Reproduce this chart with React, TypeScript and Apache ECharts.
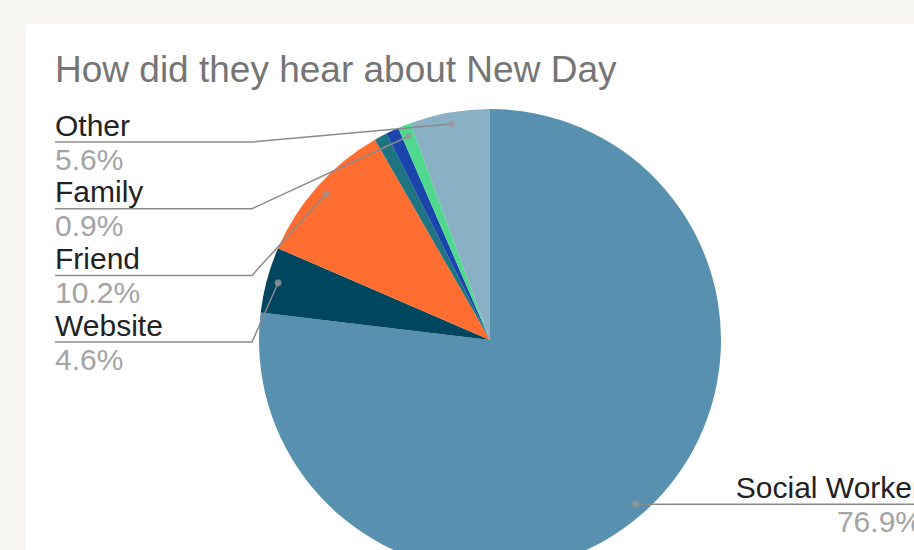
import React, { useEffect, useRef } from "react";
import * as echarts from "echarts";

const titleText = "How did they hear about New Day";
const categories = ["Social Worker", "Website", "Friend", "Source A", "Source B", "Family", "Other"];
const values = [76.9, 4.6, 10.2, 0.9, 0.9, 0.9, 5.6];
const sliceColors = ["#5891b0", "#00465f", "#ff6d31", "#1f7482", "#1a45ab", "#4fd98c", "#8ab0c6"];
const labeled = [true, true, true, false, false, true, true];
const leftLabelOrder = ["Other", "Family", "Friend", "Website"];

const FONT = "'Liberation Sans', Arial, sans-serif";

export default function App() {
  const ref = useRef<HTMLDivElement>(null);

  useEffect(() => {
    if (!ref.current) return;
    const chart = echarts.init(ref.current, null, { renderer: "svg" });
    const cx = 464;
    const cy = 316;
    const R = 231;
    const total = values.reduce((a, b) => a + b, 0);
    const mids: number[] = [];
    let acc = 0;
    values.forEach((v) => {
      mids.push(acc + v / 2);
      acc += v;
    });

    const dotPoint = (i: number, p0?: number[]) => {
      if (p0) {
        return [cx + 0.95 * (p0[0] - cx), cy + 0.95 * (p0[1] - cy)];
      }
      const pt = chart.convertToPixel({ seriesIndex: 2 } as any, [0.95, mids[i]]) as any;
      return pt;
    };

    const pieBase = {
      type: "pie",
      center: [cx, cy],
      radius: [0, R],
      startAngle: 90,
      clockwise: true,
      avoidLabelOverlap: false,
      silent: true,
    };

    chart.setOption({
      animation: false,
      backgroundColor: "#ffffff",
      title: {
        text: titleText,
        left: 24,
        top: 22,
        textStyle: { fontSize: 37, fontWeight: "normal", color: "#757575", fontFamily: FONT },
      },
      polar: { center: [cx, cy], radius: R },
      angleAxis: { type: "value", min: 0, max: total, startAngle: 90, show: false },
      radiusAxis: { type: "value", min: 0, max: 1, show: false },
      series: [
        {
          ...pieBase,
          z: 2,
          label: { show: false },
          labelLine: { show: false },
          data: categories.map((name, i) => ({
            name,
            value: values[i],
            itemStyle: { color: sliceColors[i] },
          })),
        },
        {
          ...pieBase,
          z: 4,
          itemStyle: { color: "rgba(0,0,0,0)" },
          data: categories.map((name, i) => ({
            name,
            value: values[i],
            label: { show: labeled[i] },
            labelLine: { show: labeled[i] },
          })),
          label: {
            formatter: (p: any) => `{n|${p.name}}\n{p|${p.percent.toFixed(1)}%}`,
            rich: {
              n: { fontSize: 30, color: "#222222", fontFamily: FONT, lineHeight: 34 },
              p: { fontSize: 30, color: "#a4a4a4", fontFamily: FONT, lineHeight: 34 },
            },
          },
          labelLine: {
            show: true,
            length: 20,
            length2: 20,
            lineStyle: { color: "#8a8a8a", width: 1.5 },
          },
          labelLayout: (params: any) => {
            const i = params.dataIndex;
            const name = categories[i];
            const p0 = params.labelLinePoints ? params.labelLinePoints[0] : undefined;
            const dot = dotPoint(i, p0);
            const k = leftLabelOrder.indexOf(name);
            if (k >= 0) {
              const y = 118 + k * 66.7;
              return {
                x: 29,
                y,
                align: "left",
                verticalAlign: "middle",
                labelLinePoints: [dot, [226, y], [29, y]],
              };
            }
            const y = dot[1];
            return {
              x: 896,
              y,
              align: "right",
              verticalAlign: "middle",
              labelLinePoints: [dot, [dot[0] + 20, y], [905, y]],
            };
          },
        },
        {
          type: "scatter",
          coordinateSystem: "polar",
          silent: true,
          z: 6,
          symbolSize: 7,
          itemStyle: { color: "#999999" },
          data: mids
            .map((m, i) => (labeled[i] ? [0.95, m] : null))
            .filter((d) => d !== null),
        },
      ],
    });
    return () => chart.dispose();
  }, []);

  return (
    <div
      style={{
        position: "fixed",
        left: 0,
        top: 0,
        width: 914,
        height: 550,
        overflow: "hidden",
        background: "#f7f5ef",
      }}
    >
      <div
        ref={ref}
        style={{ position: "absolute", left: 26, top: 24, width: 905, height: 540 }}
      />
    </div>
  );
}
